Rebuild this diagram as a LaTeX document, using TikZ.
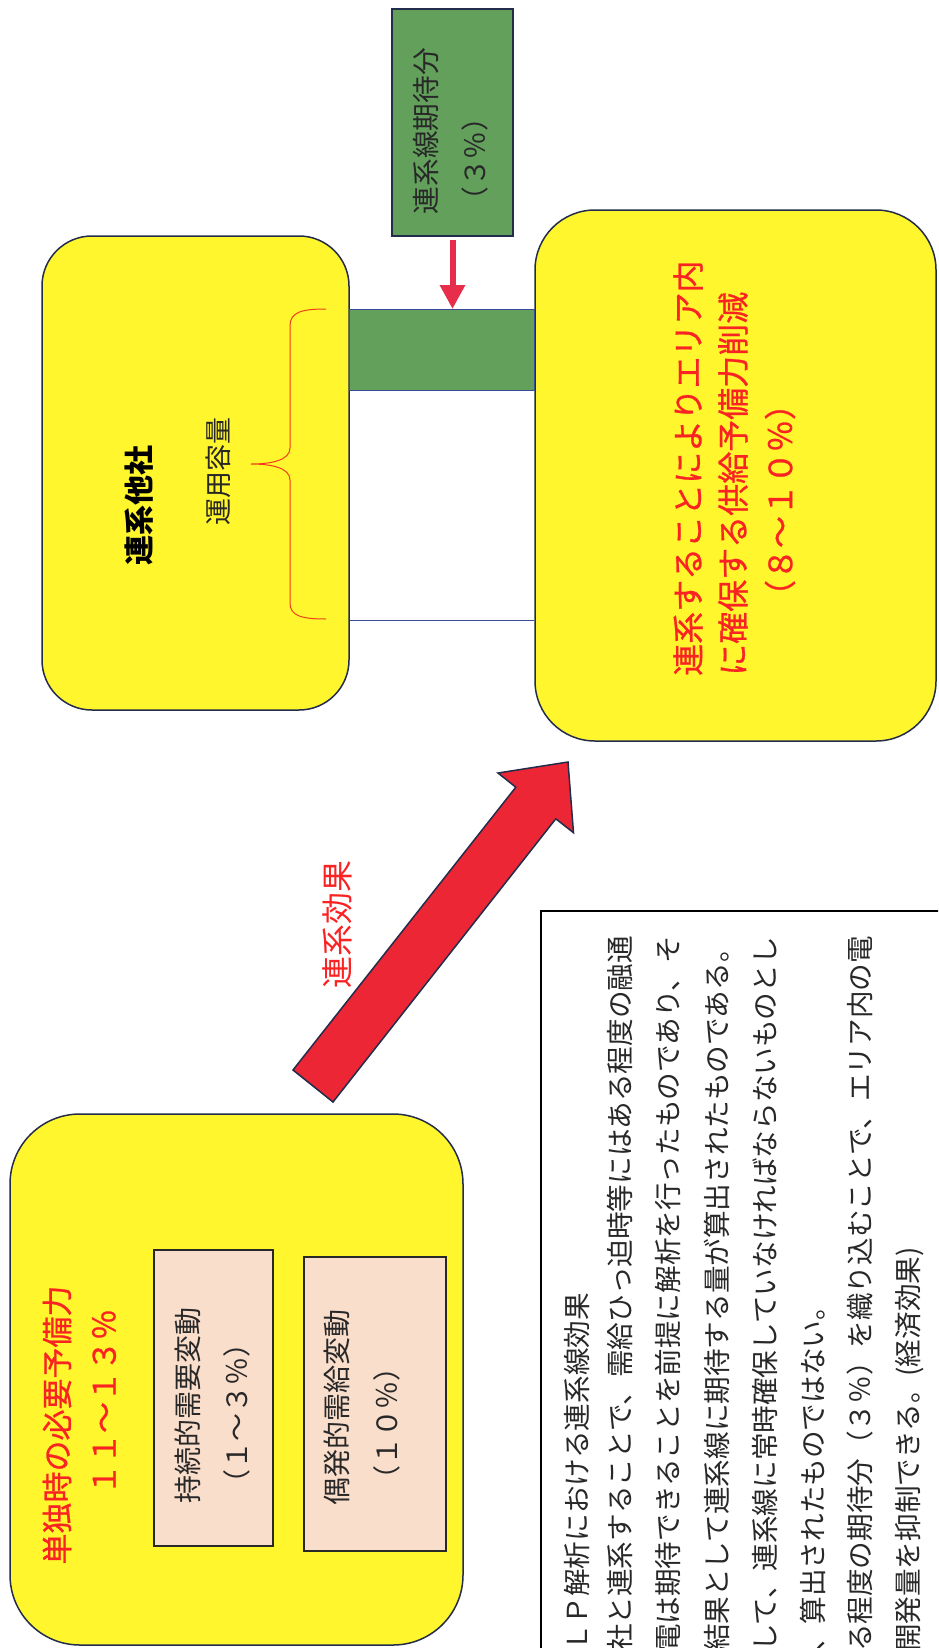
\documentclass[tikz,border=0pt]{standalone}
\usepackage{fontspec}
\newfontfamily\jp{Noto Sans CJK JP}
\newfontfamily\jpm[FakeBold=0.8]{Noto Sans CJK JP}
\usetikzlibrary{arrows.meta}
\definecolor{boxyellow}{RGB}{255,246,45}
\definecolor{boxedge}{RGB}{35,45,75}
\definecolor{grn}{RGB}{98,160,92}
\definecolor{pinkbox}{RGB}{250,222,204}
\definecolor{redtxt}{RGB}{250,35,35}
\definecolor{arrred}{RGB}{236,38,52}
\definecolor{downred}{RGB}{232,45,75}
\definecolor{lineblue}{RGB}{55,75,150}
\definecolor{bracecol}{RGB}{240,60,30}
\definecolor{bodytxt}{RGB}{40,40,40}
\begin{document}
\begin{tikzpicture}[x=1pt,y=-1pt,
  ybox/.style={draw=boxedge, line width=1.5pt, fill=boxyellow},
  pbox/.style={draw=bodytxt, line width=1.2pt, fill=pinkbox},
  vtext/.style={rotate=90, inner sep=0pt},
  f/.style={font=\jp\fontsize{#1}{#1}\selectfont},
  fm/.style={font=\jpm\fontsize{#1}{#1}\selectfont},
  coltext/.style={vtext, anchor=west, text=bodytxt, f=27.6}]
\useasboundingbox (0,0) rectangle (938,1648);
\fill[white] (0,0) rectangle (938,1648);
\clip (0,0) rectangle (938,1648);

% green expectation box
\node[draw=boxedge, line width=1.2pt, fill=grn, minimum width=121pt, minimum height=227pt] (g1) at (452.5,122.5) {};
\node[vtext, f=27.7, text=bodytxt] (g1a) at (426,131) {連系線期待分};
\node[vtext, f=27.7, text=bodytxt] (g1b) at (475,159) {（３％）};

% other company box
\node[ybox, rounded corners=50pt, minimum width=307pt, minimum height=474pt] (other) at (195.5,473) {};
\node[vtext, font=\jp\bfseries\fontsize{30}{30}\selectfont] (otherlbl) at (139,505) {連系他社};
\node[vtext, f=27, text=bodytxt] (caplbl) at (218,471) {運用容量};
\draw[bracecol, line width=1pt] (326,309) .. controls (302,309) and (290,312) .. (290,326) -- (290,448) .. controls (290,460) and (272,464) .. (251,464) .. controls (272,464) and (290,468) .. (290,480) -- (290,603) .. controls (290,616) and (302,619) .. (326,619);

% area box
\node[ybox, rounded corners=60pt, minimum width=401pt, minimum height=531pt] (area) at (735.5,475.5) {};
\node[vtext, anchor=west, fm=32, text=redtxt] (t1) at (688,676) {連系することによりエリア内};
\node[vtext, anchor=west, fm=32, text=redtxt] (t2) at (733,676) {に確保する供給予備力削減};
\node[vtext, fm=32, text=redtxt] (t3) at (780,500) {（８～１０％）};

% interconnection bar
\coordinate (bt) at (452.5,309);
\coordinate (gb) at (452.5,390);
\coordinate (lb) at (452.5,620);
\draw[lineblue, line width=1pt, fill=grn] (bt -| other.east) rectangle (gb -| area.west);
\draw[lineblue, line width=1pt] (lb -| other.east) -- (lb -| area.west);
\draw[downred, line width=6pt, shorten <=3pt, -{Triangle[width=24pt,length=24pt]}] (g1.south) -- (bt);

% single operation box
\node[ybox, rounded corners=70pt, minimum width=453pt, minimum height=531pt] (single) at (236.5,1379.5) {};
\node[vtext, fm=31, text=redtxt] (s1) at (57,1425) {単独時の必要予備力};
\node[vtext, fm=31, text=redtxt] (s2) at (104,1402) {１１～１３％};
\node[pbox, minimum width=119pt, minimum height=296pt] (p1) at (213.5,1398) {};
\node[vtext, f=28, text=bodytxt] (p1a) at (188,1405.5) {持続的需要変動};
\node[vtext, f=28, text=bodytxt] (p1b) at (237,1413) {（１～３％）};
\node[pbox, minimum width=142pt, minimum height=294pt] (p2) at (375,1404) {};
\node[vtext, f=28, text=bodytxt] (p2a) at (337,1407) {偶発的需給変動};
\node[vtext, f=28, text=bodytxt] (p2b) at (387,1423) {（１０％）};

% big arrow
\coordinate (arrT) at (313,1086);
\coordinate (arrP) at (568,762);
\draw[boxedge, line width=1.5pt, fill=arrred, line join=miter] (293,1070) -- (515.8,787.2) -- (498,773) -- (arrP) -- (573.5,832.7) -- (555.8,818.8) -- (333,1102) -- cycle;
\node[vtext, f=32, text=redtxt] (efflbl) at (337,924) {連系効果};

% explanation box
\node[draw=black, line width=1.5pt, minimum width=420pt, minimum height=760pt, anchor=north west] (expl) at (540,910) {};
\node[coltext] (c1) at (577,1652) {ＬＰ解析における連系線効果};
\node[coltext] (c2) at (620,1652) {社と連系することで、需給ひっ迫時等にはある程度の融通};
\node[coltext] (c3) at (668,1652) {電は期待できることを前提に解析を行ったものであり、そ};
\node[coltext] (c4) at (717,1652) {結果として連系線に期待する量が算出されたものである。};
\node[coltext] (c5) at (765,1652) {して、連系線に常時確保していなければならないものとし};
\node[coltext] (c6) at (813,1652) {、算出されたものではない。};
\node[coltext] (c7) at (860,1652) {る程度の期待分（３％）を織り込むことで、エリア内の電};
\node[coltext] (c8) at (910,1652) {開発量を抑制できる。(経済効果)};
\end{tikzpicture}
\end{document}
